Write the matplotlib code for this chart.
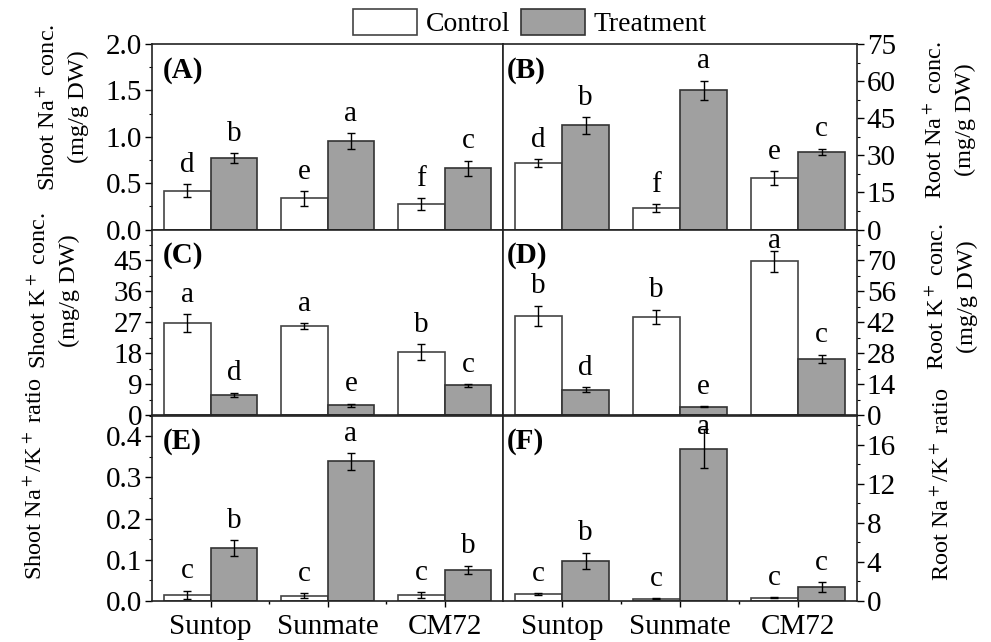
import numpy as np
import matplotlib
matplotlib.use('Agg')
import matplotlib.pyplot as plt
from matplotlib.ticker import MultipleLocator, FormatStrFormatter
from matplotlib.patches import Patch

plt.rcParams['font.family'] = ['Liberation Serif', 'DejaVu Serif']
plt.rcParams['mathtext.fontset'] = 'stix'

cultivars = ['Suntop', 'Sunmate', 'CM72']

# (A) shoot Na+
shoot_na_ctrl = [0.42, 0.335, 0.277]
shoot_na_ctrl_err = [0.07, 0.08, 0.065]
shoot_na_trt = [0.77, 0.953, 0.662]
shoot_na_trt_err = [0.05, 0.09, 0.08]
shoot_na_letters = ['d', 'b', 'e', 'a', 'f', 'c']

# (B) root Na+
root_na_ctrl = [26.9, 8.7, 20.8]
root_na_ctrl_err = [1.6, 1.6, 2.9]
root_na_trt = [42.1, 56.2, 31.5]
root_na_trt_err = [3.4, 4.0, 1.2]
root_na_letters = ['d', 'b', 'f', 'a', 'e', 'c']

# (C) shoot K+
shoot_k_ctrl = [26.7, 25.9, 18.3]
shoot_k_ctrl_err = [2.7, 0.8, 2.3]
shoot_k_trt = [5.9, 2.8, 8.6]
shoot_k_trt_err = [0.6, 0.5, 0.4]
shoot_k_letters = ['a', 'd', 'a', 'e', 'b', 'c']

# (D) root K+
root_k_ctrl = [44.8, 44.4, 69.6]
root_k_ctrl_err = [4.7, 3.3, 4.8]
root_k_trt = [11.5, 3.7, 25.5]
root_k_trt_err = [1.2, 0.3, 1.8]
root_k_letters = ['b', 'd', 'b', 'e', 'a', 'c']

# (E) shoot Na+/K+
shoot_ratio_ctrl = [0.0154, 0.013, 0.0154]
shoot_ratio_ctrl_err = [0.01, 0.006, 0.007]
shoot_ratio_trt = [0.129, 0.339, 0.076]
shoot_ratio_trt_err = [0.019, 0.02, 0.01]
shoot_ratio_letters = ['c', 'b', 'c', 'a', 'c', 'b']

# (F) root Na+/K+
root_ratio_ctrl = [0.71, 0.24, 0.34]
root_ratio_ctrl_err = [0.1, 0.05, 0.03]
root_ratio_trt = [4.1, 15.6, 1.4]
root_ratio_trt_err = [0.85, 2.0, 0.5]
root_ratio_letters = ['c', 'b', 'c', 'a', 'c', 'c']

gray = '#a0a0a0'
edge = '#333333'

fig = plt.figure(figsize=(9.91, 6.42), dpi=100)

left_x, left_w = 152 / 991, 351 / 991
right_x, right_w = 503 / 991, 354 / 991
row_h = 185.5 / 642
row_bottoms = [1 - 229.5 / 642, 1 - 415 / 642, 1 - 601 / 642]

# tag, data..., ylim, major, minor, format, ylabel, row, col, label position (x, y in axes coords)
panels = [
    ('(A)', shoot_na_ctrl, shoot_na_ctrl_err, shoot_na_trt, shoot_na_trt_err, shoot_na_letters,
     (0, 2.0), 0.5, 0.25, '%.1f', 'Shoot Na$^+$ conc.\n(mg/g DW)', 0, 0, (-0.18, 0.66)),
    ('(B)', root_na_ctrl, root_na_ctrl_err, root_na_trt, root_na_trt_err, root_na_letters,
     (0, 75), 15, 7.5, '%d', 'Root Na$^+$ conc.\n(mg/g DW)', 0, 1, (1.19, 0.59)),
    ('(C)', shoot_k_ctrl, shoot_k_ctrl_err, shoot_k_trt, shoot_k_trt_err, shoot_k_letters,
     (0, 53.9), 9, 4.5, '%d', 'Shoot K$^+$ conc.\n(mg/g DW)', 1, 0, (-0.205, 0.67)),
    ('(D)', root_k_ctrl, root_k_ctrl_err, root_k_trt, root_k_trt_err, root_k_letters,
     (0, 83.9), 14, 7, '%d', 'Root K$^+$ conc.\n(mg/g DW)', 1, 1, (1.195, 0.64)),
    ('(E)', shoot_ratio_ctrl, shoot_ratio_ctrl_err, shoot_ratio_trt, shoot_ratio_trt_err, shoot_ratio_letters,
     (0, 0.45), 0.1, 0.05, '%.1f', 'Shoot Na$^+$/K$^+$ ratio', 2, 0, (-0.30, 0.66)),
    ('(F)', root_ratio_ctrl, root_ratio_ctrl_err, root_ratio_trt, root_ratio_trt_err, root_ratio_letters,
     (0, 19), 4, 2, '%d', 'Root Na$^+$/K$^+$ ratio', 2, 1, (1.21, 0.63)),
]

x = np.arange(len(cultivars))
w = 0.4

for (tag, c, ce, t, te, letters, ylim, major, minor, fmt, ylabel, row, col, lpos) in panels:
    if col == 0:
        ax = fig.add_axes([left_x, row_bottoms[row], left_w, row_h])
    else:
        ax = fig.add_axes([right_x, row_bottoms[row], right_w, row_h])

    ax.bar(x - w / 2, c, w, yerr=ce, color='white', edgecolor='#444444', linewidth=1.2,
           error_kw=dict(ecolor='black', elinewidth=1, capsize=3, capthick=1))
    ax.bar(x + w / 2, t, w, yerr=te, color=gray, edgecolor=edge, linewidth=1.2,
           error_kw=dict(ecolor='black', elinewidth=1, capsize=3, capthick=1))

    tops = []
    for i in range(len(cultivars)):
        tops.append((x[i] - w / 2, c[i] + ce[i]))
        tops.append((x[i] + w / 2, t[i] + te[i]))
    for (xx, yy), lt in zip(tops, letters):
        if yy / ylim[1] > 0.85:
            # too close to the top: pin the letter just under the frame
            ax.annotate(lt, (xx, ylim[1]), xytext=(0, 1), textcoords='offset points',
                        ha='center', va='top', fontsize=21)
        else:
            ax.annotate(lt, (xx, yy), xytext=(0, 4.5), textcoords='offset points',
                        ha='center', va='bottom', fontsize=21)

    ax.set_xlim(-0.5, 2.5)
    ax.set_ylim(*ylim)
    ax.yaxis.set_major_locator(MultipleLocator(major))
    ax.yaxis.set_minor_locator(MultipleLocator(minor))
    ax.yaxis.set_major_formatter(FormatStrFormatter(fmt))
    ax.set_xticks(x)
    ax.set_xticks([0.5, 1.5], minor=True)
    if row == 2:
        ax.set_xticklabels(cultivars, fontsize=21)
    else:
        ax.set_xticklabels([])
    ax.tick_params(axis='x', which='major', direction='out', length=4, width=1, pad=5)
    ax.tick_params(axis='x', which='minor', direction='out', length=2, width=1)
    ax.tick_params(axis='y', which='major', direction='out', length=5, width=1, labelsize=21, pad=2)
    ax.tick_params(axis='y', which='minor', direction='out', length=2.5, width=0.8)

    if col == 1:
        ax.yaxis.tick_right()
        ax.yaxis.set_label_position('right')
        ax.set_ylabel(ylabel, fontsize=17.5, rotation=90, linespacing=1.5)
    else:
        ax.set_ylabel(ylabel, fontsize=17.5, linespacing=1.5)
    ax.yaxis.set_label_coords(*lpos)

    for s in ax.spines.values():
        s.set_linewidth(1.2)
        s.set_color('#222222')

    ax.text(0.03 if col == 0 else 0.01, 0.93, tag, transform=ax.transAxes,
            fontsize=21, fontweight='bold', ha='left', va='top')

handles = [Patch(facecolor='white', edgecolor='#444444', linewidth=1.2),
           Patch(facecolor=gray, edgecolor=edge, linewidth=1.2)]
fig.legend(handles, ['Control', 'Treatment'], loc='upper center', bbox_to_anchor=(530 / 991, 1.025),
           ncol=2, frameon=False, fontsize=20, handlelength=2.3, handleheight=1.05,
           handletextpad=0.3, columnspacing=0.4)

fig.savefig('out.png', dpi=100)
